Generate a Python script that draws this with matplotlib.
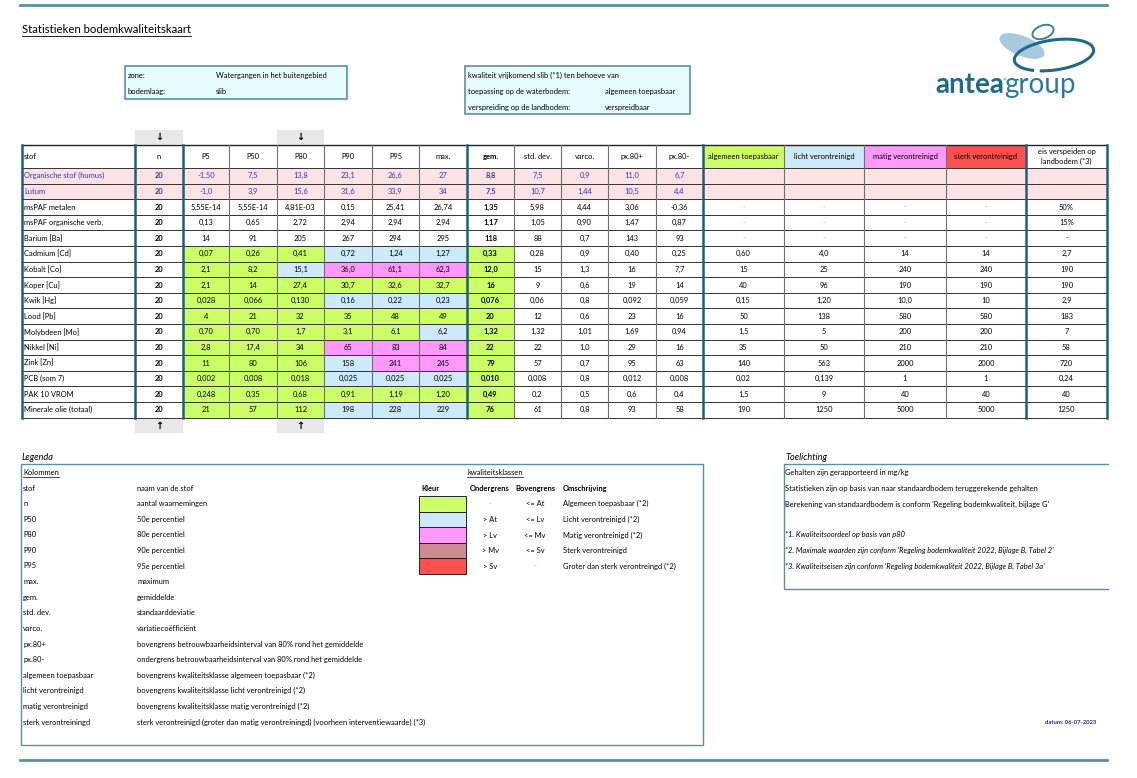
import matplotlib
matplotlib.use("Agg")
import matplotlib.pyplot as plt
from matplotlib.patches import Rectangle, Ellipse, Arc

plt.rcParams['font.family'] = ['Lato', 'DejaVu Sans']
plt.rcParams['hatch.color'] = '#c4c4c4'
plt.rcParams['hatch.linewidth'] = 0.6

# ---- data -------------------------------------------------------------
stof = ["Organische stof (humus)", "Lutum", "msPAF metalen", "msPAF organische verb.",
        "Barium [Ba]", "Cadmium [Cd]", "Kobalt [Co]", "Koper [Cu]", "Kwik [Hg]",
        "Lood [Pb]", "Molybdeen [Mo]", "Nikkel [Ni]", "Zink [Zn]", "PCB (som 7)",
        "PAK 10 VROM", "Minerale olie (totaal)"]
n_obs = [20, 20, 20, 20, 20, 20, 20, 20, 20, 20, 20, 20, 20, 20, 20, 20]
p5 = ["-1,50", "-1,0", "5,55E-14", "0,13", "14", "0,07", "2,1", "2,1", "0,028", "4",
      "0,70", "2,8", "11", "0,002", "0,248", "21"]
p50 = ["7,5", "3,9", "5,55E-14", "0,65", "91", "0,26", "8,2", "14", "0,066", "21",
       "0,70", "17,4", "80", "0,008", "0,35", "57"]
p80 = ["13,8", "15,6", "4,81E-03", "2,72", "205", "0,41", "15,1", "27,4", "0,130", "32",
       "1,7", "34", "106", "0,018", "0,68", "112"]
p90 = ["23,1", "31,6", "0,15", "2,94", "267", "0,72", "36,0", "30,7", "0,16", "35",
       "3,1", "65", "158", "0,025", "0,91", "198"]
p95 = ["26,6", "33,9", "25,41", "2,94", "294", "1,24", "61,1", "32,6", "0,22", "48",
       "6,1", "83", "241", "0,025", "1,19", "228"]
maxv = ["27", "34", "26,74", "2,94", "295", "1,27", "62,3", "32,7", "0,23", "49",
        "6,2", "84", "245", "0,025", "1,20", "229"]
gem = ["8,8", "7,5", "1,35", "1,17", "118", "0,33", "12,0", "16", "0,076", "20",
       "1,32", "22", "79", "0,010", "0,49", "76"]
std = ["7,5", "10,7", "5,98", "1,05", "88", "0,28", "15", "9", "0,06", "12",
       "1,32", "22", "57", "0,008", "0,2", "61"]
varco = ["0,9", "1,44", "4,44", "0,90", "0,7", "0,9", "1,3", "0,6", "0,8", "0,6",
         "1,01", "1,0", "0,7", "0,8", "0,5", "0,8"]
px_plus = ["11,0", "10,5", "3,06", "1,47", "143", "0,40", "16", "19", "0,092", "23",
           "1,69", "29", "95", "0,012", "0,6", "93"]
px_min = ["6,7", "4,4", "-0,36", "0,87", "93", "0,25", "7,7", "14", "0,059", "16",
          "0,94", "16", "63", "0,008", "0,4", "58"]
at_val = ["", "", "-", "-", "-", "0,60", "15", "40", "0,15", "50", "1,5", "35", "140",
          "0,02", "1,5", "190"]
lv_val = ["", "", "-", "-", "-", "4,0", "25", "96", "1,20", "138", "5", "50", "563",
          "0,139", "9", "1250"]
mv_val = ["", "", "-", "-", "-", "14", "240", "190", "10,0", "580", "200", "210", "2000",
          "1", "40", "5000"]
sv_val = ["", "", "-", "-", "-", "14", "240", "190", "10", "580", "200", "210", "2000",
          "1", "40", "5000"]
eis = ["", "", "50%", "15%", "-", "2,7", "190", "190", "2,9", "183", "7", "58", "720",
       "0,24", "40", "1250"]
# quality class of P5, P50, P80, P90, P95, max, gem  (G=green, B=light blue, M=magenta)
klasse = ["PPPPPPP", "PPPPPPP", "WWWWWWW", "WWWWWWW", "WWWWWWW",
          "GGGBBBG", "GGBMMMG", "GGGGGGG", "GGGBBBG", "GGGGGGG", "GGGGGBG",
          "GGGMMMG", "GGGBMMG", "GGGBBBG", "GGGGGGG", "GGGBBBG"]

headers = ["stof", "n", "P5", "P50", "P80", "P90", "P95", "max.", "gem.", "std. dev.",
           "varco.", "px.80+", "px.80-", "algemeen toepasbaar", "licht verontreinigd",
           "matig verontreinigd", "sterk verontreinigd", "eis verspeiden op\nlandbodem (*3)"]

legend_cols = [("stof", "naam van de stof"), ("n", "aantal waarnemingen"),
               ("P50", "50e percentiel"), ("P80", "80e percentiel"),
               ("P90", "90e percentiel"), ("P95", "95e percentiel"),
               ("max.", "maximum"), ("gem.", "gemiddelde"),
               ("std. dev.", "standaarddeviatie"), ("varco.", "variatiecoëfficiënt"),
               ("px.80+", "bovengrens betrouwbaarheidsinterval van 80% rond het gemiddelde"),
               ("px.80-", "ondergrens betrouwbaarheidsinterval van 80% rond het gemiddelde"),
               ("algemeen toepasbaar", "bovengrens kwaliteitsklasse algemeen toepasbaar (*2)"),
               ("licht verontreinigd", "bovengrens kwaliteitsklasse licht verontreinigd (*2)"),
               ("matig verontreinigd", "bovengrens kwaliteitsklasse matig verontreinigd (*2)"),
               ("sterk verontreiningd", "sterk verontreinigd (groter dan matig verontreiningd) (voorheen interventiewaarde) (*3)")]
klassen_onder = ["-", "> At", "> Lv", "> Mv", "> Sv"]
klassen_boven = ["<= At", "<= Lv", "<= Mv", "<= Sv", "-"]
klassen_omschr = ["Algemeen toepasbaar (*2)", "Licht verontreinigd (*2)",
                  "Matig verontreinigd (*2)", "Sterk verontreinigd",
                  "Groter dan sterk verontreingd (*2)"]
toelichting = ["Gehalten zijn gerapporteerd in mg/kg",
               "Statistieken zijn op basis van naar standaardbodem teruggerekende gehalten",
               "Berekening van standaardbodem is conform 'Regeling bodemkwaliteit, bijlage G'"]
voetnoten = ["*1. Kwaliteitsoordeel op basis van p80",
             "*2. Maximale waarden zijn conform 'Regeling bodemkwaliteit 2022, Bijlage B, Tabel 2'",
             "*3. Kwaliteitseisen zijn conform 'Regeling bodemkwaliteit 2022, Bijlage B, Tabel 3a'"]

# ---- style ------------------------------------------------------------
GREEN = '#ccff66'
BLUE = '#cde9fc'
MAGENTA = '#ff99ff'
RED = '#ff5050'
ROSE = '#cc8a93'
PINK = '#fde3e3'
FRAME = '#5b8fa8'
NAVY = '#1f5f7e'
PURPLE = '#3333cc'
fills = {'G': GREEN, 'B': BLUE, 'M': MAGENTA, 'P': PINK, 'W': 'white'}
FS = 5.4

fig = plt.figure(figsize=(11.37, 7.78), dpi=100)
ax = fig.add_axes([0, 0, 1, 1])
ax.set_xlim(0, 1137)
ax.set_ylim(778, 0)
ax.axis('off')


def underline(t, color='black', lw=0.6):
    fig.canvas.draw()
    bb = t.get_window_extent().transformed(ax.transData.inverted())
    ax.plot([bb.x0, bb.x1], [bb.y0 + 1, bb.y0 + 1], color=color, lw=lw)


# page frame lines
ax.plot([20, 1107], [5, 5], color=FRAME, lw=2)
ax.plot([20, 1107], [760, 760], color=FRAME, lw=2)

t = ax.text(22, 29, "Statistieken bodemkwaliteitskaart", fontsize=8.2, va='center')
underline(t)

# info boxes
ax.add_patch(Rectangle((125, 66), 222, 33, facecolor='#e6fcff', edgecolor=FRAME, lw=1.2))
ax.text(128, 75, "zone:", fontsize=FS, va='center')
ax.text(216, 75, "Watergangen in het buitengebied", fontsize=FS, va='center')
ax.text(128, 91, "bodemlaag:", fontsize=FS, va='center')
ax.text(216, 91, "slib", fontsize=FS, va='center')

ax.add_patch(Rectangle((465, 66), 225, 48, facecolor='#e6fcff', edgecolor=FRAME, lw=1.2))
ax.text(468, 75, "kwaliteit vrijkomend slib (*1) ten behoeve van", fontsize=FS, va='center')
ax.text(468, 91, "toepassing op de waterbodem:", fontsize=FS, va='center')
ax.text(605, 91, "algemeen toepasbaar", fontsize=FS, va='center')
ax.text(468, 107, "verspreiding op de landbodem:", fontsize=FS, va='center')
ax.text(605, 107, "verspreidbaar", fontsize=FS, va='center')

# logo
ax.add_patch(Ellipse((1022, 46), 48, 20, angle=22, facecolor='#a9c9de', edgecolor='none'))
ax.add_patch(Arc((1054, 55), 80, 30, angle=-8, theta1=150, theta2=500,
                 color='#1e6a8a', lw=2.2))
ax.add_patch(Ellipse((1043, 32), 22, 13, angle=-20, facecolor='none',
                     edgecolor='#3a82a6', lw=1.4))
ax.text(1004, 93, "antea", fontsize=20, fontweight='bold', color='#1e6a8a',
        ha='right', va='baseline')
ax.text(1004, 93, "group", fontsize=20, fontweight='normal', color='#2a7aa0',
        ha='left', va='baseline')
ax.text(1004, 81, "®", fontsize=3, color='#1e6a8a', ha='center')

# ---- main table -------------------------------------------------------
col_x = [22, 135, 183, 229, 277, 324, 372, 419, 467, 514, 561, 608, 656, 703,
         784, 864, 946, 1026, 1107]
head_top, head_bot = 145, 168
row_h = 15.6
n_rows = len(stof)
table_bot = head_bot + n_rows * row_h

header_fill = {13: GREEN, 14: BLUE, 15: MAGENTA, 16: RED}
for j, h in enumerate(headers):
    x0, x1 = col_x[j], col_x[j + 1]
    ax.add_patch(Rectangle((x0, head_top), x1 - x0, head_bot - head_top,
                           facecolor=header_fill.get(j, 'white'), edgecolor='none'))
    if j == 0:
        ax.text(x0 + 2, (head_top + head_bot) / 2, h, fontsize=FS, va='center')
    else:
        ax.text((x0 + x1) / 2, (head_top + head_bot) / 2, h, fontsize=FS, va='center',
                ha='center', fontweight='bold' if h == "gem." else 'normal',
                linespacing=1.3)

columns = [stof, [str(v) for v in n_obs], p5, p50, p80, p90, p95, maxv, gem, std,
           varco, px_plus, px_min, at_val, lv_val, mv_val, sv_val, eis]
for i in range(n_rows):
    y0 = head_bot + i * row_h
    yc = y0 + row_h / 2
    pink = klasse[i][0] == 'P'
    for j, col in enumerate(columns):
        x0, x1 = col_x[j], col_x[j + 1]
        if 2 <= j <= 8:
            fc = fills[klasse[i][j - 2]]
        else:
            fc = PINK if pink else 'white'
        ax.add_patch(Rectangle((x0, y0), x1 - x0, row_h, facecolor=fc, edgecolor='none'))
        s = col[i]
        color = PURPLE if pink else 'black'
        if s == "-" and 13 <= j < 17:
            color = '#aaaaaa'
        bold = j in (1, 8)
        if j == 0:
            ax.text(x0 + 2, yc, s, fontsize=FS, va='center', color=color)
        else:
            ax.text((x0 + x1) / 2, yc, s, fontsize=FS, va='center', ha='center',
                    color=color, fontweight='bold' if bold else 'normal')

# grid lines
ax.plot([col_x[0], col_x[-1]], [head_top, head_top], color='#222222', lw=1.0)
for i in range(n_rows + 1):
    y = head_bot + i * row_h
    ax.plot([col_x[0], col_x[-1]], [y, y], color='#333333', lw=0.7)
thick = {0, 1, 2, 8, 13, 17, 18}
for j, x in enumerate(col_x):
    if j in thick:
        ax.plot([x, x], [head_top, table_bot], color=NAVY, lw=1.8)
    else:
        ax.plot([x, x], [head_top, table_bot], color='#6f6f6f', lw=0.8)

# arrow markers above/below n and P80
for j in (1, 4):
    x0, x1 = col_x[j], col_x[j + 1]
    for (yb, arrow) in ((head_top - 15, "↓"), (table_bot + 1.5, "↑")):
        ax.add_patch(Rectangle((x0, yb), x1 - x0, 13.5, facecolor='#e8e8e8',
                               edgecolor='#e8e8e8', hatch='......', lw=0.2))
        ax.text((x0 + x1) / 2, yb + 7, arrow, fontsize=7, ha='center', va='center',
                fontweight='bold', family=['DejaVu Sans'])

# ---- legenda ----------------------------------------------------------
ax.text(22, 457, "Legenda", fontsize=6.6, style='italic', va='center')
ax.add_patch(Rectangle((21, 464), 682, 281, facecolor='none', edgecolor=FRAME, lw=1.0))
t = ax.text(23, 472, "Kolommen", fontsize=FS, va='center')
underline(t, lw=0.5)
leg_pitch = 15.6
for k, (key, desc) in enumerate(legend_cols):
    y = 488 + k * leg_pitch
    ax.text(23, y, key, fontsize=FS, va='center')
    ax.text(137, y, desc, fontsize=FS, va='center')

t = ax.text(467, 472, "kwaliteitsklassen", fontsize=FS, va='center')
underline(t, lw=0.5)
ax.text(421, 488, "Kleur", fontsize=FS, va='center', fontweight='bold')
ax.text(490, 488, "Ondergrens", fontsize=FS, va='center', ha='center', fontweight='bold')
ax.text(535, 488, "Bovengrens", fontsize=FS, va='center', ha='center', fontweight='bold')
ax.text(563, 488, "Omschrijving", fontsize=FS, va='center', fontweight='bold')
swatches = [GREEN, BLUE, MAGENTA, ROSE, RED]
for k, c in enumerate(swatches):
    y0 = 496 + k * leg_pitch
    ax.add_patch(Rectangle((419, y0), 47, leg_pitch, facecolor=c, edgecolor='#222222',
                           lw=0.7))
    yc = y0 + leg_pitch / 2
    lo, hi = klassen_onder[k], klassen_boven[k]
    ax.text(490, yc, lo, fontsize=FS, va='center', ha='center',
            color='#aaaaaa' if lo == "-" else 'black')
    ax.text(535, yc, hi, fontsize=FS, va='center', ha='center',
            color='#aaaaaa' if hi == "-" else 'black')
    ax.text(563, yc, klassen_omschr[k], fontsize=FS, va='center')

# ---- toelichting ------------------------------------------------------
ax.text(785, 457, "Toelichting", fontsize=6.6, style='italic', va='center')
ax.plot([1108, 784, 784, 1108], [464, 464, 589, 589], color=FRAME, lw=1.0)
for k, s in enumerate(toelichting):
    ax.text(785, 472 + k * 16, s, fontsize=FS, va='center')
for k, s in enumerate(voetnoten):
    ax.text(785, 535 + k * 15.6, s, fontsize=FS, va='center', style='italic')

ax.text(1096, 722, "datum: 06-07-2023", fontsize=4.2, va='center', ha='right',
        color='#2b2b7a', fontweight='bold')

fig.savefig("out.png", dpi=100)
